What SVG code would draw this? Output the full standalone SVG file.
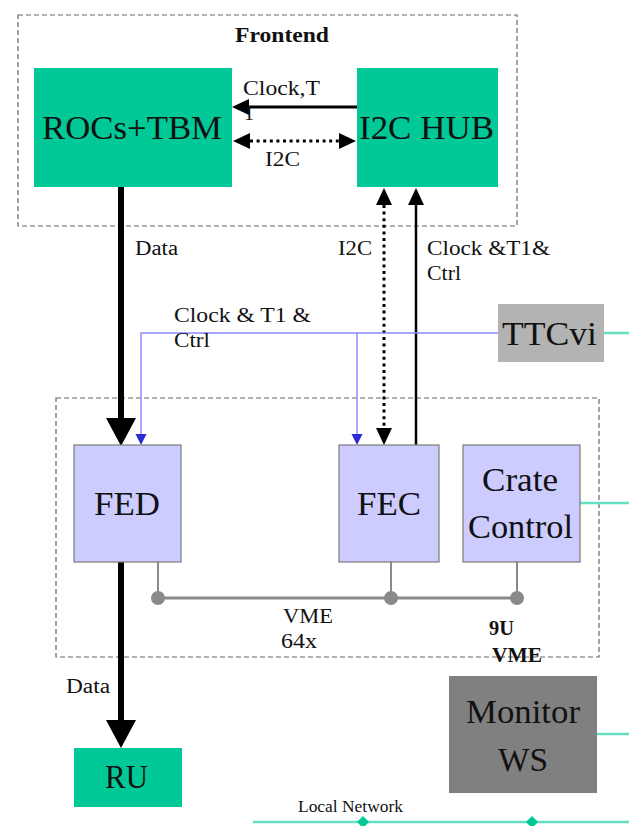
<svg xmlns="http://www.w3.org/2000/svg" width="629" height="826" viewBox="0 0 629 826">
  <style>
    text { font-family: "Liberation Serif", "Times New Roman", serif; fill: #111; }
    .big { font-size: 34px; }
    .lbl { font-size: 20px; }
    .small { font-size: 16px; }
    .bold { font-weight: bold; }
    .frame { fill: none; stroke: #666; stroke-width: 1.2; stroke-dasharray: 5 3; }
    .green { fill: #00c896; }
    .card { fill: #ccccff; stroke: #7a7a7a; stroke-width: 1.2; }
    .data { stroke: #000; stroke-width: 6; fill: none; }
    .ctl { stroke: #000; stroke-width: 3; fill: none; }
    .dots { stroke: #000; stroke-width: 3; fill: none; stroke-dasharray: 3 3.6; }
    .ttc { stroke: #8a8aff; stroke-width: 1.5; fill: none; }
    .bus { stroke: #8a8a8a; fill: none; }
    .net { stroke: #66e0c2; stroke-width: 2.5; fill: none; }
  </style>
  <defs>
    <marker id="headData" markerUnits="userSpaceOnUse" markerWidth="28" markerHeight="32" refX="0" refY="15" orient="auto">
      <path d="M0,0 L28,15 L0,30 z" fill="#000"/>
    </marker>
    <marker id="headCtl" markerUnits="userSpaceOnUse" markerWidth="18" markerHeight="16" refX="0" refY="8" orient="auto-start-reverse">
      <path d="M0,0 L17,8 L0,16 z" fill="#000"/>
    </marker>
    <marker id="headTtc" markerUnits="userSpaceOnUse" markerWidth="12" markerHeight="12" refX="0" refY="5.5" orient="auto">
      <path d="M0,0 L11,5.5 L0,11 z" fill="#2a2ad8"/>
    </marker>
  </defs>

  <!-- crate and frontend outlines -->
  <rect class="frame" x="18" y="15" width="499" height="211"/>
  <text class="lbl bold" x="235" y="42" textLength="94" lengthAdjust="spacingAndGlyphs">Frontend</text>
  <rect class="frame" x="56" y="398" width="543" height="259"/>

  <!-- connectors -->
  <g id="connectors">
    <!-- data path -->
    <line class="data" x1="121" y1="187" x2="121" y2="418" marker-end="url(#headData)"/>
    <line class="data" x1="121" y1="562" x2="121" y2="720" marker-end="url(#headData)"/>
    <!-- clock from hub to ROCs -->
    <line class="ctl" x1="357" y1="107" x2="249" y2="107" marker-end="url(#headCtl)"/>
    <!-- I2C between ROCs and hub -->
    <line class="dots" x1="250" y1="141" x2="339" y2="141" marker-start="url(#headCtl)" marker-end="url(#headCtl)"/>
    <!-- I2C between FEC and hub -->
    <line class="dots" x1="384" y1="205" x2="384" y2="428" marker-start="url(#headCtl)" marker-end="url(#headCtl)"/>
    <!-- clock & T1 & ctrl from FEC to hub -->
    <line class="ctl" style="stroke-width:2.5" x1="416" y1="445" x2="416" y2="205" marker-end="url(#headCtl)"/>
    <!-- TTCvi distribution -->
    <polyline class="ttc" points="498,333 141,333 141,434" marker-end="url(#headTtc)"/>
    <line class="ttc" x1="357" y1="333" x2="357" y2="434" marker-end="url(#headTtc)"/>
    <!-- VME bus -->
    <line class="bus" style="stroke-width:3" x1="158" y1="598" x2="517" y2="598"/>
    <line class="bus" style="stroke-width:2" x1="158" y1="562" x2="158" y2="598"/>
    <line class="bus" style="stroke-width:2" x1="391" y1="562" x2="391" y2="598"/>
    <line class="bus" style="stroke-width:2" x1="517" y1="562" x2="517" y2="598"/>
    <circle cx="158" cy="598" r="7" fill="#8a8a8a"/>
    <circle cx="391" cy="598" r="7" fill="#8a8a8a"/>
    <circle cx="517" cy="598" r="7" fill="#8a8a8a"/>
    <!-- network links -->
    <line class="net" x1="604" y1="333" x2="629" y2="333"/>
    <line class="net" x1="580" y1="503" x2="629" y2="503"/>
    <line class="net" x1="597" y1="734" x2="629" y2="734"/>
    <line class="net" x1="253" y1="822" x2="629" y2="822"/>
    <path d="M363,816 L369,822 L363,828 L357,822 z" fill="#00c896"/>
    <path d="M532,816 L538,822 L532,828 L526,822 z" fill="#00c896"/>
  </g>

  <!-- connector labels -->
  <g id="labels">
    <text class="lbl" x="243" y="95" textLength="77" lengthAdjust="spacingAndGlyphs">Clock,T</text>
    <text class="lbl" x="244" y="120">1</text>
    <text class="lbl" x="265" y="166" textLength="35" lengthAdjust="spacingAndGlyphs">I2C</text>
    <text class="lbl" x="135" y="255" textLength="43" lengthAdjust="spacingAndGlyphs">Data</text>
    <text class="lbl" x="338" y="255" textLength="34" lengthAdjust="spacingAndGlyphs">I2C</text>
    <text class="lbl" x="427" y="255" textLength="123" lengthAdjust="spacingAndGlyphs">Clock &amp;T1&amp;</text>
    <text class="lbl" x="427" y="280" textLength="34" lengthAdjust="spacingAndGlyphs">Ctrl</text>
    <text class="lbl" x="174" y="322" textLength="137" lengthAdjust="spacingAndGlyphs">Clock &amp; T1 &amp;</text>
    <text class="lbl" x="174" y="347" textLength="36" lengthAdjust="spacingAndGlyphs">Ctrl</text>
    <text class="lbl" x="283" y="623" textLength="50" lengthAdjust="spacingAndGlyphs">VME</text>
    <text class="lbl" x="281" y="648" textLength="36" lengthAdjust="spacingAndGlyphs">64x</text>
    <text class="lbl bold" x="489" y="635" textLength="25" lengthAdjust="spacingAndGlyphs">9U</text>
    <text class="lbl bold" x="492" y="662" textLength="50" lengthAdjust="spacingAndGlyphs">VME</text>
    <text class="lbl" x="66" y="693" textLength="44" lengthAdjust="spacingAndGlyphs">Data</text>
    <text class="small" x="298" y="812" textLength="105" lengthAdjust="spacingAndGlyphs">Local Network</text>
  </g>

  <!-- nodes -->
  <g id="rocs-tbm">
    <rect class="green" x="34" y="68" width="198" height="119"/>
    <text class="big" x="42" y="139" textLength="180" lengthAdjust="spacingAndGlyphs">ROCs+TBM</text>
  </g>
  <g id="i2c-hub">
    <rect class="green" x="357" y="68" width="141" height="119"/>
    <text class="big" x="359" y="139" textLength="135" lengthAdjust="spacingAndGlyphs">I2C HUB</text>
  </g>
  <g id="ttcvi">
    <rect x="498" y="304" width="106" height="58" fill="#b3b3b3"/>
    <text class="big" x="502" y="345" textLength="95" lengthAdjust="spacingAndGlyphs">TTCvi</text>
  </g>
  <g id="fed">
    <rect class="card" x="74" y="445" width="107" height="117"/>
    <text class="big" x="94" y="515" textLength="66" lengthAdjust="spacingAndGlyphs">FED</text>
  </g>
  <g id="fec">
    <rect class="card" x="339" y="445" width="100" height="117"/>
    <text class="big" x="357" y="515" textLength="64" lengthAdjust="spacingAndGlyphs">FEC</text>
  </g>
  <g id="crate-control">
    <rect class="card" x="463" y="445" width="117" height="117"/>
    <text class="big" x="482" y="491" textLength="76" lengthAdjust="spacingAndGlyphs">Crate</text>
    <text class="big" x="468" y="538" textLength="105" lengthAdjust="spacingAndGlyphs">Control</text>
  </g>
  <g id="ru">
    <rect class="green" x="74" y="748" width="108" height="59"/>
    <text class="big" x="105" y="788" textLength="43" lengthAdjust="spacingAndGlyphs">RU</text>
  </g>
  <g id="monitor-ws">
    <rect x="449" y="676" width="148" height="117" fill="#808080"/>
    <text class="big" x="466" y="723" textLength="114" lengthAdjust="spacingAndGlyphs">Monitor</text>
    <text class="big" x="498" y="771" textLength="50" lengthAdjust="spacingAndGlyphs">WS</text>
  </g>
</svg>
